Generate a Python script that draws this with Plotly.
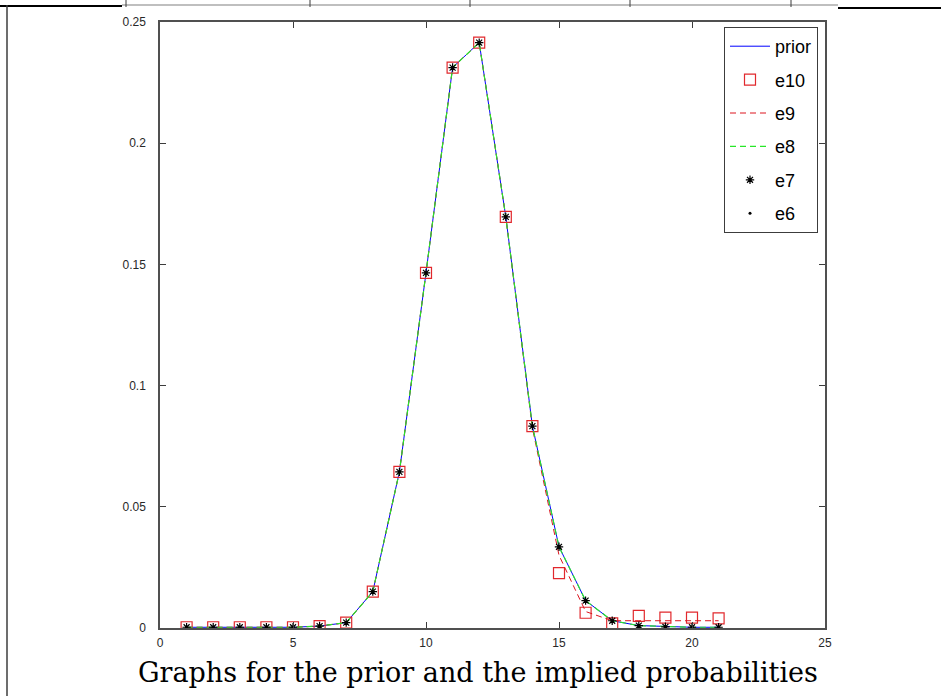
import plotly.graph_objects as go

# ---------------- data ----------------
x_vals = list(range(1, 22))
prior = [0.0003, 0.0003, 0.0003, 0.0003, 0.0003, 0.0008, 0.0022, 0.0150, 0.0644, 0.1465,
         0.2312, 0.2415, 0.1696, 0.0833, 0.0335, 0.0113, 0.0030, 0.0010, 0.0005, 0.0003, 0.0003]
e10 = [0.0003, 0.0003, 0.0003, 0.0003, 0.0003, 0.0008, 0.0022, 0.0150, 0.0644, 0.1465,
       0.2312, 0.2415, 0.1696, 0.0833, 0.0226, 0.0063, 0.0019, 0.0050, 0.0043, 0.0043, 0.0040]
e9 = [0.0003, 0.0003, 0.0003, 0.0003, 0.0003, 0.0008, 0.0022, 0.0150, 0.0644, 0.1465,
      0.2312, 0.2415, 0.1696, 0.0825, 0.0300, 0.0068, 0.0030, 0.0030, 0.0030, 0.0030, 0.0030]
e8 = [0.0003, 0.0003, 0.0003, 0.0003, 0.0003, 0.0008, 0.0022, 0.0150, 0.0644, 0.1465,
      0.2312, 0.2415, 0.1696, 0.0833, 0.0335, 0.0113, 0.0030, 0.0010, 0.0005, 0.0003, 0.0003]
e7 = [0.0003, 0.0003, 0.0003, 0.0003, 0.0003, 0.0008, 0.0022, 0.0150, 0.0644, 0.1465,
      0.2312, 0.2415, 0.1696, 0.0833, 0.0335, 0.0113, 0.0030, 0.0010, 0.0005, 0.0003, 0.0003]
e6 = [0.0003, 0.0003, 0.0003, 0.0003, 0.0003, 0.0008, 0.0022, 0.0150, 0.0644, 0.1465,
      0.2312, 0.2415, 0.1696, 0.0833, 0.0335, 0.0113, 0.0030, 0.0010, 0.0005, 0.0003, 0.0003]

x_ticks = [0, 5, 10, 15, 20, 25]
y_ticks = [0, 0.05, 0.1, 0.15, 0.2, 0.25]
y_tick_labels = ["0", "0.05", "0.1", "0.15", "0.2", "0.25"]
caption = "Graphs for the prior and the implied probabilities"

W, H = 941, 696
L, R, T, B = 160, 116, 22, 68
pw, ph = W - L - R, H - T - B


def px2paper_x(px):
    return (px - L) / pw


def px2paper_y(py):
    return (H - B - py) / ph


fig = go.Figure()
fig.add_trace(go.Scatter(x=x_vals, y=prior, name="prior", mode="lines", legendgroup="a",
                         line=dict(color="rgb(0,0,255)", width=1)))
fig.add_trace(go.Scatter(x=x_vals, y=e10, name="e10", mode="markers", legendgroup="b",
                         marker=dict(symbol="square-open", size=11, color="rgb(225,40,45)",
                                     line=dict(width=1.2))))
fig.add_trace(go.Scatter(x=x_vals, y=e9, name="e9", mode="lines", legendgroup="c",
                         line=dict(color="rgb(220,20,30)", width=1, dash="6px,4px")))
fig.add_trace(go.Scatter(x=x_vals, y=e8, name="e8", mode="lines", legendgroup="d",
                         line=dict(color="rgb(40,230,40)", width=1.2, dash="6px,4px")))
fig.add_trace(go.Scatter(x=x_vals, y=e7, name="e7", mode="markers", legendgroup="e",
                         marker=dict(symbol="asterisk-open", size=7, color="black",
                                     line=dict(width=1.2, color="rgb(40,40,40)"))))
fig.add_trace(go.Scatter(x=x_vals, y=e6, name="e6", mode="markers", legendgroup="f",
                         marker=dict(symbol="circle", size=3, color="black")))

axis_common = dict(
    showline=True, linecolor="rgb(80,80,80)", linewidth=1.5, mirror="allticks",
    ticks="inside", ticklen=6, tickcolor="rgb(60,60,60)", tickwidth=1,
    showgrid=False, zeroline=False,
    tickfont=dict(family="Liberation Sans, Arial, sans-serif", size=12, color="rgb(40,40,40)"),
)

fig.update_xaxes(range=[0, 25], tickvals=x_ticks, ticktext=[str(v) for v in x_ticks],
                 ticklabelstandoff=3, **axis_common)
fig.update_yaxes(range=[0, 0.25], tickvals=y_ticks, ticktext=y_tick_labels,
                 ticklabelstandoff=10, **axis_common)

# caption
fig.add_annotation(text=caption, xref="paper", yref="paper",
                   x=px2paper_x(478), y=px2paper_y(672), xanchor="center", yanchor="middle",
                   showarrow=False,
                   font=dict(family="DejaVu Serif, Liberation Serif, serif", size=27, color="black"))

# page frame artifacts
shapes = []
shapes.append(dict(type="line", xref="paper", yref="paper",
                   x0=px2paper_x(0), x1=px2paper_x(122), y0=px2paper_y(6), y1=px2paper_y(6),
                   line=dict(color="black", width=2)))
shapes.append(dict(type="line", xref="paper", yref="paper",
                   x0=px2paper_x(122), x1=px2paper_x(838), y0=px2paper_y(5), y1=px2paper_y(5),
                   line=dict(color="rgb(170,170,170)", width=1.5)))
shapes.append(dict(type="line", xref="paper", yref="paper",
                   x0=px2paper_x(838), x1=px2paper_x(941), y0=px2paper_y(8), y1=px2paper_y(8),
                   line=dict(color="black", width=2)))
for tx in [126, 310, 470, 630, 791]:
    shapes.append(dict(type="line", xref="paper", yref="paper",
                       x0=px2paper_x(tx), x1=px2paper_x(tx), y0=px2paper_y(0), y1=px2paper_y(7),
                       line=dict(color="rgb(60,60,60)", width=1)))
shapes.append(dict(type="line", xref="paper", yref="paper",
                   x0=px2paper_x(7), x1=px2paper_x(7), y0=px2paper_y(5), y1=px2paper_y(696),
                   line=dict(color="rgb(60,60,60)", width=1.5)))
fig.update_layout(shapes=shapes)

fig.update_layout(
    width=W, height=H,
    margin=dict(l=L, r=R, t=T, b=B, pad=0),
    paper_bgcolor="white", plot_bgcolor="white",
    legend=dict(x=px2paper_x(818), y=px2paper_y(27), xanchor="right", yanchor="top",
                bgcolor="white", bordercolor="rgb(60,60,60)", borderwidth=1,
                font=dict(family="Liberation Sans, Arial, sans-serif", size=18, color="black"),
                tracegroupgap=7, itemwidth=40),
    showlegend=True,
)

fig.write_html("out.html")
